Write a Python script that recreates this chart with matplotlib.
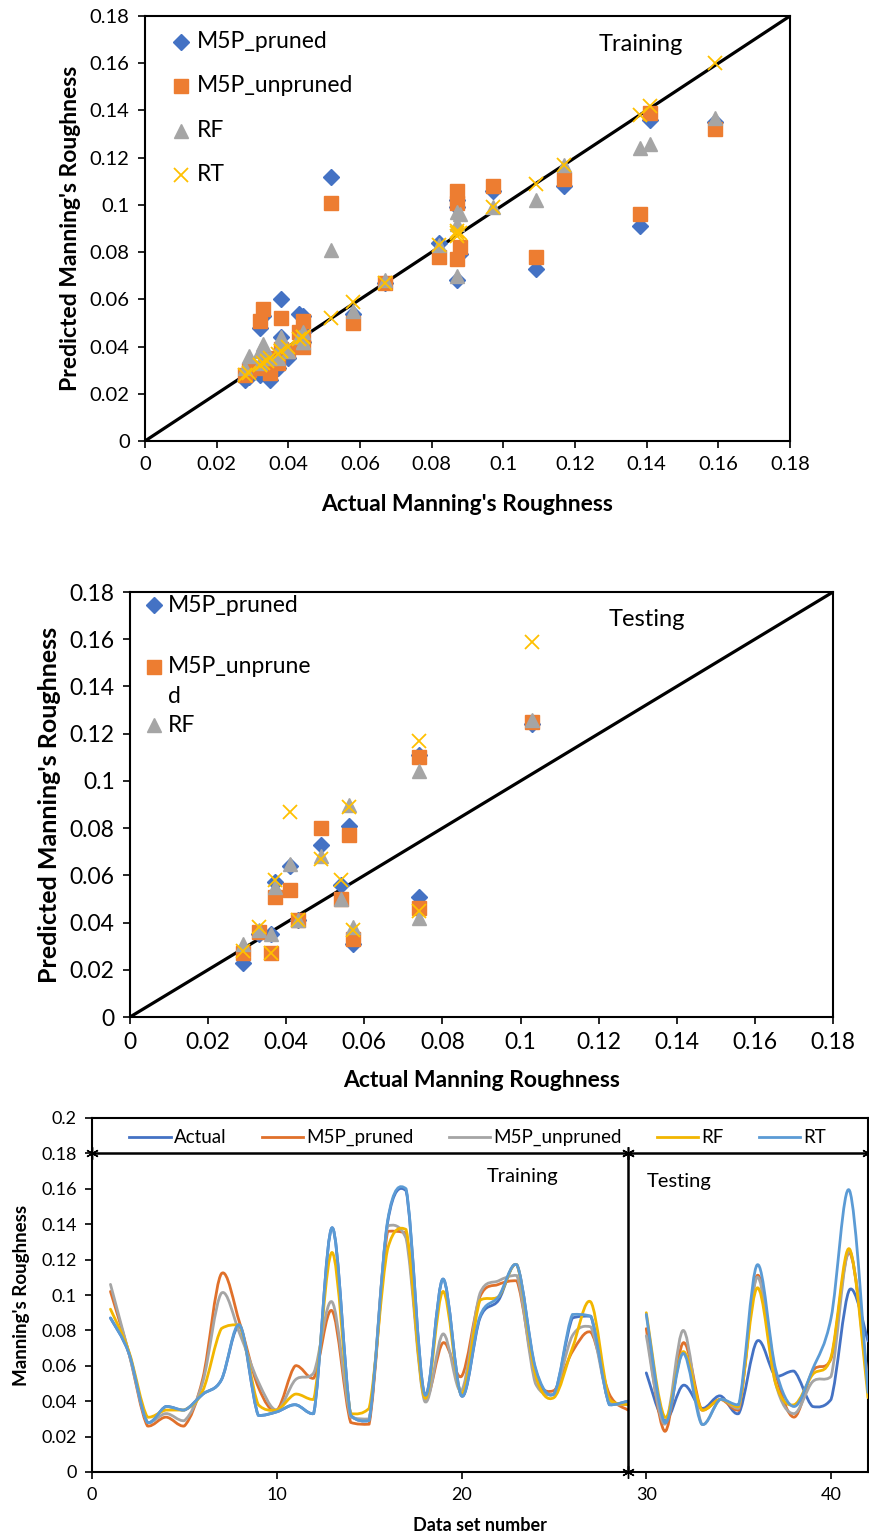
import numpy as np
import matplotlib
matplotlib.use("Agg")
import matplotlib.pyplot as plt
from matplotlib.path import Path
from matplotlib.patches import PathPatch
from matplotlib.lines import Line2D

plt.rcParams['font.family'] = ['Lato', 'DejaVu Sans']

# ---- data: Manning's roughness per data set (1-29 training, 30-42 testing) ----
data_set = list(range(1, 43))
n_train = 29

actual = [0.087, 0.067, 0.028, 0.037, 0.035, 0.044, 0.052, 0.082, 0.032, 0.034,
          0.038, 0.033, 0.138, 0.032, 0.029, 0.141, 0.159, 0.044, 0.109, 0.043,
          0.087, 0.097, 0.117, 0.058, 0.044, 0.087, 0.088, 0.038, 0.040,
          0.056, 0.029, 0.049, 0.036, 0.043, 0.033, 0.074, 0.054, 0.057, 0.037,
          0.041, 0.103, 0.074]
m5p_pruned = [0.102, 0.067, 0.026, 0.031, 0.026, 0.053, 0.112, 0.084, 0.048, 0.035,
              0.060, 0.053, 0.091, 0.028, 0.027, 0.136, 0.135, 0.042, 0.073, 0.054,
              0.099, 0.106, 0.108, 0.054, 0.046, 0.068, 0.079, 0.044, 0.035,
              0.081, 0.023, 0.073, 0.035, 0.041, 0.035, 0.111, 0.056, 0.031, 0.057,
              0.064, 0.124, 0.051]
m5p_unpruned = [0.106, 0.067, 0.028, 0.033, 0.029, 0.051, 0.101, 0.078, 0.051, 0.035,
                0.052, 0.056, 0.096, 0.031, 0.030, 0.139, 0.132, 0.040, 0.078, 0.046,
                0.101, 0.108, 0.111, 0.050, 0.044, 0.077, 0.082, 0.039, 0.038,
                0.077, 0.027, 0.080, 0.027, 0.041, 0.036, 0.110, 0.050, 0.033, 0.051,
                0.054, 0.125, 0.046]
rf = [0.092, 0.068, 0.031, 0.035, 0.035, 0.046, 0.081, 0.083, 0.038, 0.035,
      0.044, 0.041, 0.124, 0.033, 0.036, 0.126, 0.137, 0.042, 0.102, 0.044,
      0.097, 0.099, 0.117, 0.055, 0.042, 0.070, 0.096, 0.041, 0.038,
      0.090, 0.031, 0.068, 0.035, 0.041, 0.037, 0.104, 0.050, 0.038, 0.055,
      0.065, 0.126, 0.042]
rt = [0.087, 0.067, 0.028, 0.037, 0.035, 0.044, 0.052, 0.083, 0.032, 0.034,
      0.038, 0.033, 0.138, 0.032, 0.029, 0.142, 0.160, 0.044, 0.109, 0.043,
      0.088, 0.099, 0.117, 0.059, 0.044, 0.089, 0.088, 0.038, 0.040,
      0.089, 0.028, 0.067, 0.027, 0.041, 0.038, 0.117, 0.058, 0.037, 0.058,
      0.087, 0.159, 0.045]

series_names = ["M5P_pruned", "M5P_unpruned", "RF", "RT"]
line_names = ["Actual", "M5P_pruned", "M5P_unpruned", "RF", "RT"]
ticks_scatter = [0, 0.02, 0.04, 0.06, 0.08, 0.1, 0.12, 0.14, 0.16, 0.18]
tick_labels_scatter = ["0", "0.02", "0.04", "0.06", "0.08", "0.1", "0.12", "0.14", "0.16", "0.18"]
ticks_line_y = [0, 0.02, 0.04, 0.06, 0.08, 0.1, 0.12, 0.14, 0.16, 0.18, 0.2]
tick_labels_line_y = ["0", "0.02", "0.04", "0.06", "0.08", "0.1", "0.12", "0.14", "0.16", "0.18", "0.2"]
ticks_line_x = [0, 10, 20, 30, 40]

C_BLUE = "#4472C4"
C_ORANGE = "#ED7D31"
C_GRAY = "#A5A5A5"
C_YELLOW = "#FFC000"
C_LBLUE = "#5B9BD5"

MARKERS = [
    dict(marker="D", ms=8.5, color=C_BLUE, mec=C_BLUE),
    dict(marker="s", ms=10, color=C_ORANGE, mec=C_ORANGE),
    dict(marker="^", ms=10.5, color=C_GRAY, mec=C_GRAY),
    dict(marker="x", ms=10, mew=1.3, color=C_YELLOW),
]

fig = plt.figure(figsize=(8.69, 15.36), dpi=100)


def style_axes(ax, tick_size):
    for s in ax.spines.values():
        s.set_linewidth(1.5)
        s.set_color("black")
    ax.tick_params(direction="out", length=5, width=1.2, labelsize=tick_size, pad=6)


def key_entries(ax, labels, x_mark, x_text, ys, size):
    """Marker key drawn in axes coordinates (one marker + text per series)."""
    for style, label, y in zip(MARKERS, labels, ys):
        ax.plot([x_mark], [y], ls="none", transform=ax.transAxes, clip_on=False,
                zorder=6, **style)
        ax.text(x_text, y, label, transform=ax.transAxes, fontsize=size,
                ha="left", va="center", linespacing=1.45)


def scatter_panel(ax, idx, label_text, label_pos, xlabel, label_size, tick_size, xlabelpad):
    x = np.array(actual)[idx]
    ax.plot([0, 0.18], [0, 0.18], color="black", lw=2.3, zorder=1)
    for vals, style, z in zip((m5p_pruned, m5p_unpruned, rf, rt), MARKERS, (2, 3, 4, 5)):
        ax.plot(x, np.array(vals)[idx], ls="none", zorder=z, **style)
    ax.set_xlim(0, 0.18)
    ax.set_ylim(0, 0.18)
    ax.set_xticks(ticks_scatter)
    ax.set_xticklabels(tick_labels_scatter)
    ax.set_yticks(ticks_scatter)
    ax.set_yticklabels(tick_labels_scatter)
    style_axes(ax, tick_size)
    ax.set_xlabel(xlabel, fontsize=label_size[0], fontweight="bold", labelpad=xlabelpad)
    ax.set_ylabel("Predicted Manning's Roughness", fontsize=label_size[1],
                  fontweight="bold", labelpad=6)
    ax.text(label_pos[0], label_pos[1], label_text, transform=ax.transAxes,
            fontsize=17, ha="center", va="center")


# ---- training scatter ----
ax1 = fig.add_axes([145 / 869, 1 - 441 / 1536, 645 / 869, 425 / 1536])
train_idx = np.arange(n_train)
scatter_panel(ax1, train_idx, "Training", (0.769, 0.932), "Actual Manning's Roughness",
              (16.5, 16.5), 14.5, 15)
key_entries(ax1, series_names, 0.056, 0.081, [0.939, 0.836, 0.730, 0.627], 16.5)

# ---- testing scatter ----
ax2 = fig.add_axes([130 / 869, 1 - 1017 / 1536, 703 / 869, 425 / 1536])
test_idx = np.arange(n_train, len(actual))
scatter_panel(ax2, test_idx, "Testing", (0.735, 0.936), "Actual Manning Roughness",
              (16.5, 18), 16.5, 12)
key_entries(ax2, ["M5P_pruned", "M5P_unprune", "RF"], 0.034, 0.054,
            [0.969, 0.824, 0.687], 16.5)
ax2.text(0.054, 0.753, "d", transform=ax2.transAxes, fontsize=16.5,
         ha="left", va="center")


# ---- smoothed series chart ----
def smooth_path(xs, ys):
    xs = np.asarray(xs, float)
    ys = np.asarray(ys, float)
    pts = np.column_stack([xs, ys])
    verts = [pts[0]]
    codes = [Path.MOVETO]
    n = len(pts)
    for i in range(n - 1):
        p0 = pts[i - 1] if i > 0 else pts[i]
        p1 = pts[i]
        p2 = pts[i + 1]
        p3 = pts[i + 2] if i + 2 < n else pts[i + 1]
        c1 = p1 + (p2 - p0) / 6.0
        c2 = p2 - (p3 - p1) / 6.0
        # keep control handles within the segment's value range
        lo, hi = min(p1[1], p2[1]), max(p1[1], p2[1])
        pad = 0.15 * (hi - lo)
        c1[1] = np.clip(c1[1], lo - pad, hi + pad)
        c2[1] = np.clip(c2[1], lo - pad, hi + pad)
        verts.extend([c1, c2, p2])
        codes.extend([Path.CURVE4] * 3)
    return Path(verts, codes)


ax3 = fig.add_axes([92 / 869, 1 - 1472 / 1536, 776 / 869, 354 / 1536])
line_series = [actual, m5p_pruned, m5p_unpruned, rf, rt]
line_colors = [C_BLUE, "#E0702A", C_GRAY, "#F2B600", C_LBLUE]
x_train = data_set[:n_train]
x_test = data_set[n_train:]
for vals, col in zip(line_series, line_colors):
    for xs, ys in ((x_train, vals[:n_train]), (x_test, vals[n_train:])):
        patch = PathPatch(smooth_path(xs, ys), facecolor="none", edgecolor=col,
                          lw=2.0, capstyle="round", joinstyle="round", zorder=3)
        ax3.add_patch(patch)

# separator between training and testing blocks
ast = (6, 2, 0)
ax3.plot([0, 29, 42], [0.18, 0.18, 0.18], color="black", lw=1.8, marker=ast,
         ms=9, mew=1.0, zorder=4, clip_on=False)
ax3.plot([29, 29], [0, 0.18], color="black", lw=1.8, marker=ast, ms=9, mew=1.0,
         zorder=4, clip_on=False)

ax3.set_xlim(0, 42)
ax3.set_ylim(0, 0.2)
ax3.set_xticks(ticks_line_x)
ax3.set_yticks(ticks_line_y)
ax3.set_yticklabels(tick_labels_line_y)
style_axes(ax3, 13)
ax3.set_xlabel("Data set number", fontsize=13, fontweight="bold", labelpad=10)
ax3.set_ylabel("Manning's Roughness", fontsize=13.5, fontweight="bold", labelpad=8)
ax3.text(23.3, 0.167, "Training", fontsize=14.5, ha="center", va="center")
ax3.text(30.0, 0.164, "Testing", fontsize=14.5, ha="left", va="center")

leg_handles = [Line2D([], [], color=c, lw=2.0) for c in line_colors]
ax3.legend(leg_handles, line_names, loc="center", bbox_to_anchor=(0.497, 0.944),
           ncol=5, frameon=False, fontsize=13.5, handlelength=2.2,
           handletextpad=0.15, columnspacing=1.9, borderaxespad=0)

fig.savefig("out.png", dpi=100)
